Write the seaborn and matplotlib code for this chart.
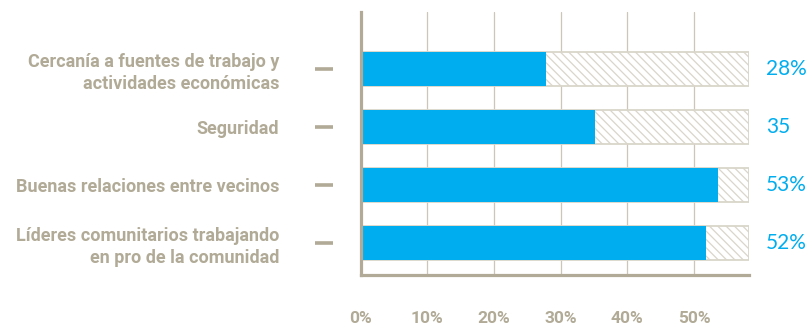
import pandas as pd
import matplotlib.pyplot as plt
import seaborn as sns

# Data
categories = [
    "Cercanía a fuentes de trabajo y\nactividades económicas",
    "Seguridad",
    "Buenas relaciones entre vecinos",
    "Líderes comunitarios trabajando\nen pro de la comunidad",
]
values = [27.8, 35.2, 53.6, 51.8]
value_labels = ["28%", "35", "53%", "52%"]
scale_max = 58.3
x_ticks = [0, 10, 20, 30, 40, 50]
x_tick_labels = ["0%", "10%", "20%", "30%", "40%", "50%"]

df = pd.DataFrame({"cat": categories, "value": values, "full": [scale_max] * len(categories)})

beige = "#b0aa96"
grid_col = "#cbc6b8"
hatch_col = "#d9d5ca"
blue = "#00aeef"

sns.set_style("white")
plt.rcParams["font.family"] = ["Roboto", "DejaVu Sans"]
plt.rcParams["hatch.linewidth"] = 0.9

fig = plt.figure(figsize=(8.09, 3.25), dpi=100)
ax = fig.add_axes([0.4457, 0.1538, 0.4805, 0.8092])

# hatched background bars, then the values on top
sns.barplot(data=df, y="cat", x="full", orient="h", color="white", saturation=1,
            edgecolor=hatch_col, hatch="\\\\\\\\", linewidth=1.3, width=0.586, ax=ax)
sns.barplot(data=df, y="cat", x="value", orient="h", color=blue, saturation=1,
            linewidth=0, width=0.586, ax=ax)

ax.set_xlim(0, scale_max)
ax.set_ylim(3.552, -0.983)
ax.set_xlabel("")
ax.set_ylabel("")

# spines
for s in ["top", "right"]:
    ax.spines[s].set_visible(False)
for s in ["left", "bottom"]:
    ax.spines[s].set_color(beige)
    ax.spines[s].set_linewidth(2.3)

# gridlines
ax.set_axisbelow(True)
ax.xaxis.grid(True, color=grid_col, linewidth=0.9)
ax.set_xticks(x_ticks, x_tick_labels, fontweight="bold", fontsize=12.5, color=beige)
ax.tick_params(axis="x", direction="out", length=8.6, width=0.9, color=grid_col, pad=17)
ax.xaxis.get_major_ticks()[0].tick1line.set_visible(False)

# category labels
ax.set_yticks(range(len(categories)), categories, fontweight="bold", fontsize=13,
              color=beige, linespacing=1.25)
ax.tick_params(axis="y", length=0, pad=58.5)

# dashes next to the category labels
trans = ax.get_yaxis_transform()
ax.scatter([-0.094] * len(categories), range(len(categories)), marker="_",
           s=170, linewidths=2.6, color=beige, transform=trans, clip_on=False)

# value labels
for i, txt in enumerate(value_labels):
    ax.text(1.043, i, txt, transform=trans, ha="left", va="center",
            fontsize=15, color=blue, family=["Lato", "DejaVu Sans"])

fig.savefig("out.png", dpi=100)
